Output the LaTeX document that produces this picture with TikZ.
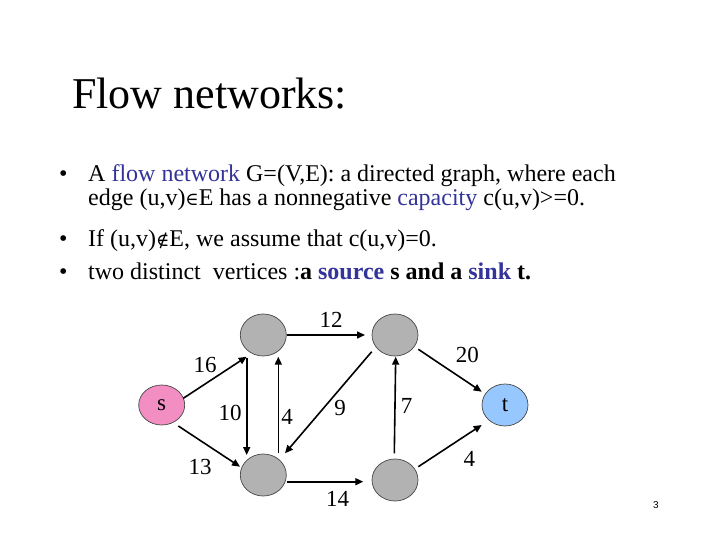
\documentclass[tikz,border=0pt]{standalone}
\usepackage{fontspec}
\setmainfont{Liberation Serif}
\newfontfamily\pagefont{Liberation Sans}
\newfontfamily\symfont{DejaVu Serif}
\usetikzlibrary{shapes.geometric,arrows.meta,calc}
\definecolor{hlblue}{RGB}{51,51,153}
\definecolor{vgray}{RGB}{178,178,178}
\definecolor{spink}{RGB}{242,142,194}
\definecolor{tblue}{RGB}{150,200,255}
\definecolor{edgegray}{RGB}{70,70,70}
\newcommand{\hl}[1]{\textcolor{hlblue}{#1}}
\newcommand{\elemof}{{\symfont\fontsize{18}{20}\selectfont ∈}}
\newcommand{\notelemof}{{\symfont\fontsize{18}{20}\selectfont ∉}}
\tikzset{
  body/.style={inner sep=0pt, anchor=base west, font=\fontsize{24}{26}\selectfont},
  vert/.style={ellipse, draw=edgegray, line width=0.7pt, minimum width=46pt, minimum height=42pt, inner sep=0pt, fill=vgray, font=\fontsize{23}{25}\selectfont},
  lab/.style={inner sep=0pt, font=\fontsize{23}{25}\selectfont},
  arr/.style={line width=1.6pt, -{Triangle[length=8pt,width=7pt]}}
}
\begin{document}
\begin{tikzpicture}[x=1pt,y=-1pt]
\useasboundingbox[fill=white] (0,0) rectangle (720,540);
% title
\node[inner sep=0pt, anchor=base west, font=\fontsize{44}{48}\selectfont] (title) at (72,109) {Flow networks:};
% bullets
\node[body] (b1) at (59,182) {•};
\node[body] (b3) at (59,246) {•};
\node[body] (b4) at (59,279) {•};
\node[body] (l1) at (88,182) {A \hl{flow network} G=(V,E): a directed graph, where each};
\node[body] (l2) at (88,206) {edge (u,v)\elemof E has a nonnegative \hl{capacity} c(u,v)>=0.};
\node[body] (l3) at (88,246) {If (u,v)\notelemof E, we assume that c(u,v)=0.};
\node[body] (l4) at (88,279) {two distinct\ \ vertices :\textbf{a \hl{source} s and a \hl{sink} t.}};
% vertices
\node[vert, fill=spink, minimum height=40pt] (s) at (161.7,405) {s};
\node[vert] (TL) at (263.3,335) {};
\node[vert] (TR) at (395,335) {};
\node[vert] (BL) at (263.3,475) {};
\node[vert] (BR) at (395,480) {};
\node[vert, fill=tblue] (t) at (505,405) {t};
% edges
\draw[arr] ($(s)+(21.6,-6.7)$) -- ($(TL)+(-16.6,21.7)$);
\draw[arr] ($(s)+(16.6,21)$) -- ($(BL)+(-23.3,-8.3)$);
\draw[arr] ($(TL)+(-16.6,23.3)$) -- ($(BL)+(-16.6,-20)$);
\draw[arr] ($(BL)+(15,-21.7)$) -- ($(TL)+(15,21.7)$);
\draw[arr] ($(TL)+(23.4,0)$) -- ($(TR)+(-30,0)$);
\draw[arr] ($(TR)+(-23.3,16.7)$) -- ($(BL)+(21.7,-21.7)$);
\draw[arr] ($(BR)+(-0.7,-26.7)$) -- ($(TR)+(0.7,21.7)$);
\draw[arr] ($(TR)+(23.3,14.3)$) -- ($(t)+(-23.3,-13.3)$);
\draw[arr] ($(BR)+(23.3,-13.3)$) -- ($(t)+(-23.3,20)$);
\draw[arr] ($(BL)+(23.4,6.7)$) -- ($(BR)+(-31.7,1.7)$);
% labels
\node[lab] (c12) at (331,320) {12};
\node[lab] (c16) at (205,365) {16};
\node[lab] (c13) at (200,466.7) {13};
\node[lab] (c10) at (230,412.5) {10};
\node[lab] (c4a) at (287,416.7) {4};
\node[lab] (c9) at (340,408) {9};
\node[lab] (c7) at (406.7,406) {7};
\node[lab] (c20) at (467.3,355) {20};
\node[lab] (c4b) at (469.3,459.3) {4};
\node[lab] (c14) at (337.7,499) {14};
% page number
\node[inner sep=0pt, font=\pagefont\fontsize{10}{12}\selectfont] (pg) at (656,505) {3};
\end{tikzpicture}
\end{document}
